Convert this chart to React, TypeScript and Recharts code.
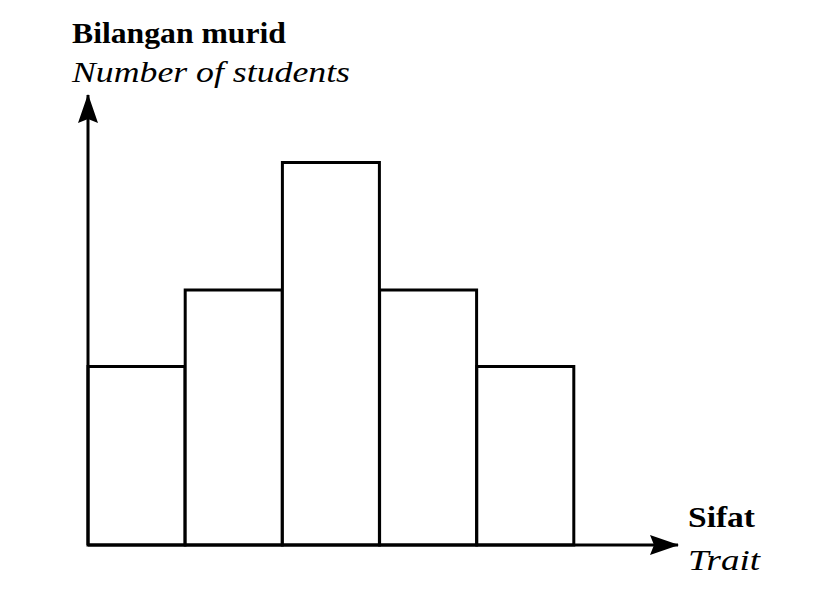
import { BarChart, Bar, XAxis, YAxis } from "recharts";

const traits = ["A", "B", "C", "D", "E"];
const students = [7, 10, 15, 10, 7];
const yMax = 17.65;

const data = traits.map((t, i) => ({ trait: t, students: students[i] }));

const serif = "'Times New Roman', 'Liberation Serif', Tinos, Times, serif";

export default function App() {
  return (
    <div style={{ position: "absolute", left: 0, top: 0, background: "#fff" }}>
      <BarChart
        width={815}
        height={598}
        data={data}
        margin={{ top: 95, right: 137, bottom: 52, left: 87 }}
        barCategoryGap={0}
        barGap={0}
        style={{ fontFamily: serif }}
      >
        <defs>
          <marker
            id="arrowHead"
            markerUnits="userSpaceOnUse"
            markerWidth={32}
            markerHeight={24}
            refX={29}
            refY={12}
            orient="auto-start-reverse"
          >
            <path d="M1,2 L30,12 L1,22 L5,12 Z" fill="#000" />
          </marker>
        </defs>
        <XAxis
          dataKey="trait"
          height={1}
          tick={false}
          tickLine={false}
          padding={{ left: 0, right: 104 }}
          axisLine={{ stroke: "#000", strokeWidth: 3, markerEnd: "url(#arrowHead)" }}
        />
        <YAxis
          width={1}
          domain={[0, yMax]}
          tick={false}
          tickLine={false}
          axisLine={{ stroke: "#000", strokeWidth: 3, markerStart: "url(#arrowHead)" }}
        />
        <Bar
          dataKey="students"
          fill="#fff"
          stroke="#000"
          strokeWidth={3}
          isAnimationActive={false}
        />
        <text x={72} y={43} fontSize={29} fontWeight="bold" fill="#000" textLength={214} lengthAdjust="spacingAndGlyphs">
          Bilangan murid
        </text>
        <text x={72} y={82} fontSize={29} fontStyle="italic" fill="#000" textLength={278} lengthAdjust="spacingAndGlyphs">
          Number of students
        </text>
        <text x={688} y={527} fontSize={29} fontWeight="bold" fill="#000" textLength={67} lengthAdjust="spacingAndGlyphs">
          Sifat
        </text>
        <text x={688} y={570} fontSize={29} fontStyle="italic" fill="#000" textLength={72} lengthAdjust="spacingAndGlyphs">
          Trait
        </text>
      </BarChart>
    </div>
  );
}
